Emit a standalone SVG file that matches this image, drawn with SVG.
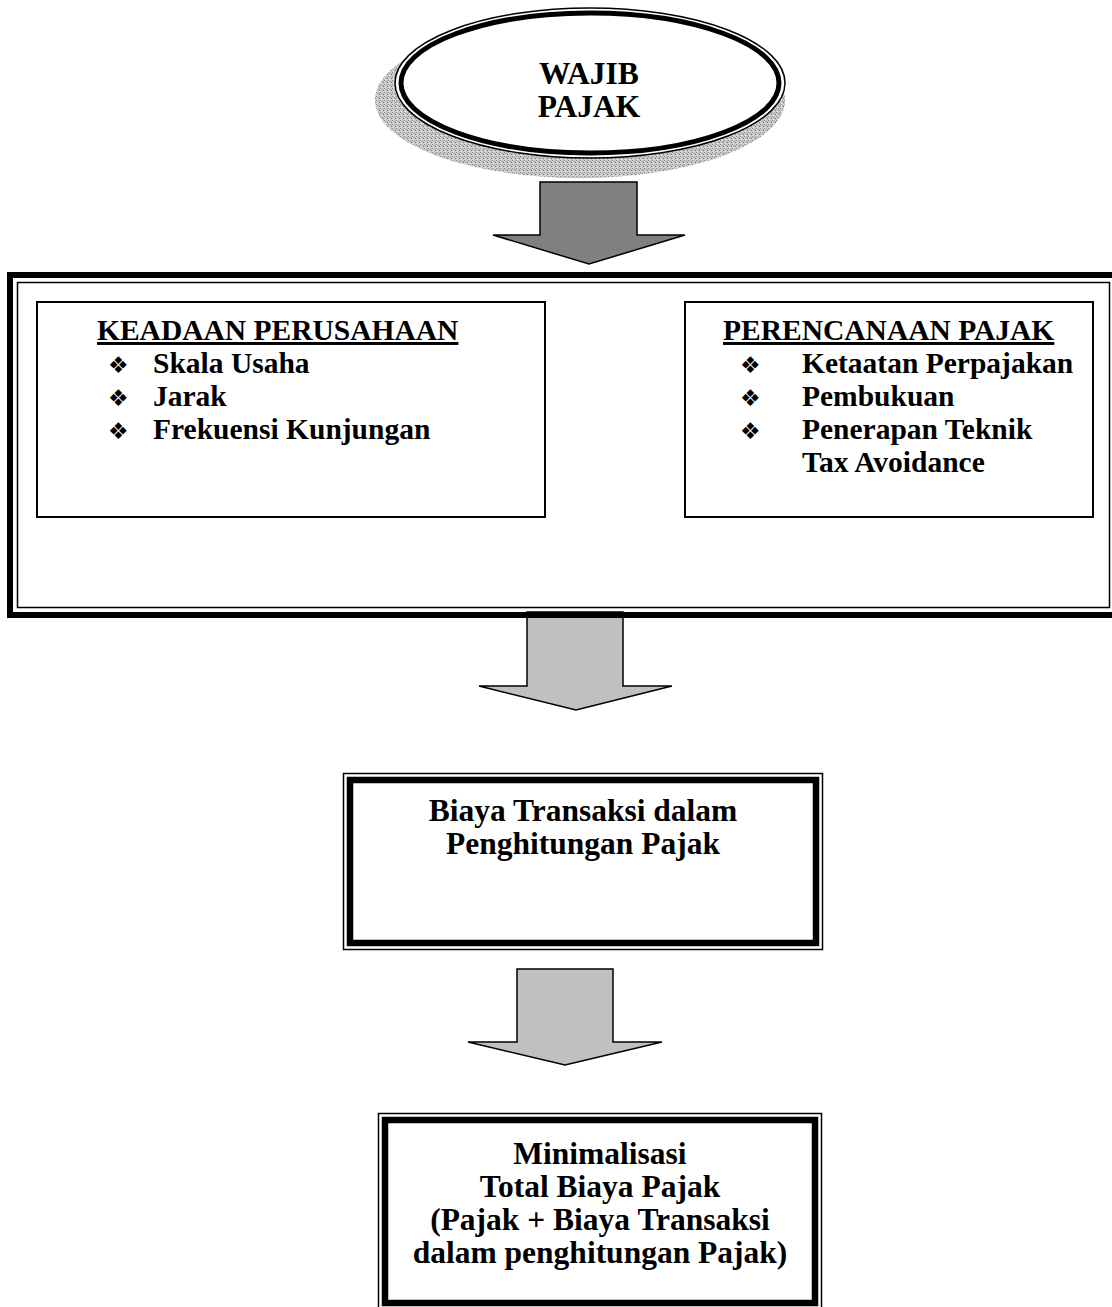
<svg xmlns="http://www.w3.org/2000/svg" width="1112" height="1307" viewBox="0 0 1112 1307">
<defs>
<pattern id="stip" width="4" height="4" patternUnits="userSpaceOnUse">
<rect width="4" height="4" fill="#c8c8c8"/>
<rect x="0" y="0" width="1" height="1" fill="#8a8a8a"/>
<rect x="2" y="1" width="1" height="1" fill="#9a9a9a"/>
<rect x="1" y="3" width="1" height="1" fill="#eeeeee"/>
<rect x="3" y="2" width="1" height="1" fill="#7c7c7c"/>
</pattern>
</defs>
<style>
.t{font-family:"Liberation Serif","Times New Roman",serif;font-weight:bold;fill:#000}
.c{text-anchor:middle}
.l{font-size:29.5px}
.m{font-size:31.5px}
.b{font-family:"DejaVu Sans",sans-serif;font-size:23px;fill:#000}
.arrowD{fill:#808080;stroke:#000;stroke-width:1.5}
.arrowL{fill:#c0c0c0;stroke:#000;stroke-width:1.5}
.thin{fill:none;stroke:#000;stroke-width:1.5}
.thick{fill:none;stroke:#000;stroke-width:6}
</style>
<rect width="1112" height="1307" fill="#fff"/>

<g id="wajib-pajak">
<ellipse cx="580" cy="100" rx="205" ry="78" fill="url(#stip)"/>
<ellipse cx="590" cy="83" rx="195" ry="75" fill="#fff" stroke="#000" stroke-width="1.5"/>
<ellipse cx="590" cy="83" rx="189" ry="70" fill="none" stroke="#000" stroke-width="5"/>
<text class="t c m" x="589" y="84">WAJIB</text>
<text class="t c m" x="589" y="117">PAJAK</text>
</g>

<g id="connectors">
<path class="arrowD" d="M540,182 H637 V235 H685 L589,264 L493,235 H540 Z"/>
<path class="arrowL" d="M527,612 H623 V686 H672 L576,710 L479,686 H527 Z"/>
<path class="arrowL" d="M517,969 H613 V1042 H662 L565,1065 L468,1042 H517 Z"/>
</g>

<g id="faktor">
<rect class="thick" x="10" y="275" width="1112" height="340"/>
<rect class="thin" x="17.5" y="282.5" width="1092" height="325"/>
</g>

<g id="keadaan-perusahaan">
<rect x="37" y="302" width="508" height="215" fill="#fff" stroke="#000" stroke-width="2"/>
<text class="t l" x="97" y="340" text-decoration="underline">KEADAAN PERUSAHAAN</text>
<text class="b" x="108" y="373">❖</text>
<text class="t l" x="153" y="373">Skala Usaha</text>
<text class="b" x="108" y="406">❖</text>
<text class="t l" x="153" y="406">Jarak</text>
<text class="b" x="108" y="439">❖</text>
<text class="t l" x="153" y="439">Frekuensi Kunjungan</text>
</g>

<g id="perencanaan-pajak">
<rect x="685" y="302" width="408" height="215" fill="#fff" stroke="#000" stroke-width="2"/>
<text class="t l" x="723" y="340" text-decoration="underline">PERENCANAAN PAJAK</text>
<text class="b" x="740" y="373">❖</text>
<text class="t l" x="802" y="373">Ketaatan Perpajakan</text>
<text class="b" x="740" y="406">❖</text>
<text class="t l" x="802" y="406">Pembukuan</text>
<text class="b" x="740" y="439">❖</text>
<text class="t l" x="802" y="439">Penerapan Teknik</text>
<text class="t l" x="802" y="472">Tax Avoidance</text>
</g>

<g id="biaya-transaksi">
<rect class="thin" x="343.5" y="773.5" width="479" height="176"/>
<rect x="350" y="780" width="466" height="163" fill="#fff" stroke="#000" stroke-width="6.5"/>
<text class="t c m" x="583" y="821">Biaya Transaksi dalam</text>
<text class="t c m" x="583" y="854">Penghitungan Pajak</text>
</g>

<g id="minimalisasi">
<rect class="thin" x="378.5" y="1113.5" width="443" height="200"/>
<rect x="385" y="1120" width="430" height="183" fill="#fff" stroke="#000" stroke-width="6.5"/>
<text class="t c m" x="600" y="1164">Minimalisasi</text>
<text class="t c m" x="600" y="1197">Total Biaya Pajak</text>
<text class="t c m" x="600" y="1230">(Pajak + Biaya Transaksi</text>
<text class="t c m" x="600" y="1263">dalam penghitungan Pajak)</text>
</g>
</svg>
